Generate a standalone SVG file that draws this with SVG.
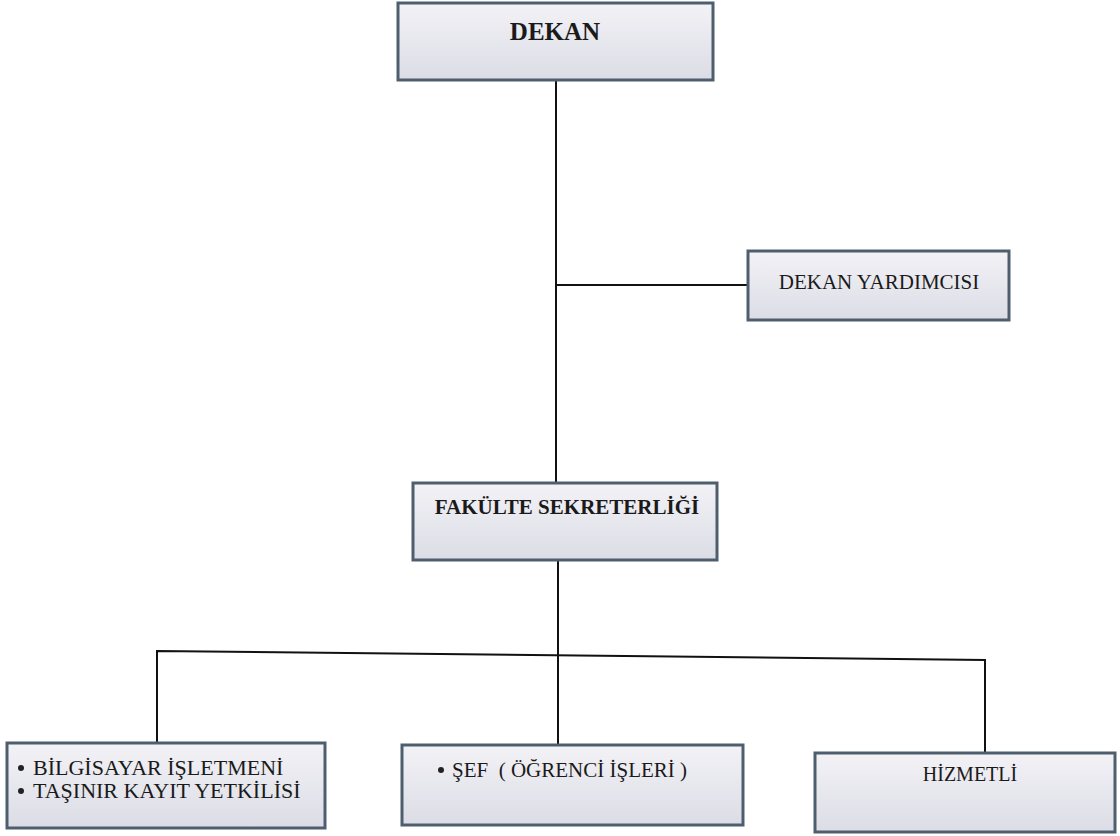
<svg xmlns="http://www.w3.org/2000/svg" width="1120" height="836" viewBox="0 0 1120 836">
<defs>
<linearGradient id="g" x1="0" y1="0" x2="0" y2="1">
<stop offset="0" stop-color="#f2f2f6"/>
<stop offset="1" stop-color="#dcdce6"/>
</linearGradient>
</defs>
<style>
.box{fill:url(#g);stroke:#4f5e6e;stroke-width:3}
.t{font-family:"Liberation Serif","Times New Roman",serif;font-size:20px;fill:#1a1a1a}
.b{font-weight:bold}
.c{text-anchor:middle}
.ln{fill:none;stroke:#111;stroke-width:2}
</style>
<rect width="1120" height="836" fill="#ffffff"/>
<g id="connectors">
<path class="ln" d="M556,80 V483"/>
<path class="ln" d="M556,285 H748"/>
<path class="ln" d="M558,560 V745"/>
<path class="ln" d="M157,743 V651 L985,660 V753"/>
</g>
<g id="dekan">
<rect class="box" x="398" y="3" width="315" height="77"/>
<text class="t b c" x="555" y="40" style="font-size:25px">DEKAN</text>
</g>
<g id="dekan-yardimcisi">
<rect class="box" x="748" y="251" width="261" height="69"/>
<text class="t c" x="879" y="289" style="font-size:21px">DEKAN YARDIMCISI</text>
</g>
<g id="fakulte-sekreterligi">
<rect class="box" x="413" y="483" width="304" height="77"/>
<text class="t b c" x="567" y="514" style="font-size:21px">FAKÜLTE SEKRETERLİĞİ</text>
</g>
<g id="bilgisayar">
<rect class="box" x="7" y="743" width="318" height="85"/>
<circle cx="21" cy="768" r="3" fill="#222"/>
<circle cx="21" cy="791" r="3" fill="#222"/>
<text class="t" x="33" y="775" style="font-size:22px">BİLGİSAYAR İŞLETMENİ</text>
<text class="t" x="33" y="798" style="font-size:22px">TAŞINIR KAYIT YETKİLİSİ</text>
</g>
<g id="sef">
<rect class="box" x="402" y="745" width="341" height="80"/>
<circle cx="441" cy="770" r="3" fill="#222"/>
<text class="t" x="452" y="777" style="font-size:21px" xml:space="preserve">ŞEF  ( ÖĞRENCİ İŞLERİ )</text>
</g>
<g id="hizmetli">
<rect class="box" x="815" y="753" width="300" height="79"/>
<text class="t c" x="970" y="781">HİZMETLİ</text>
</g>
</svg>
